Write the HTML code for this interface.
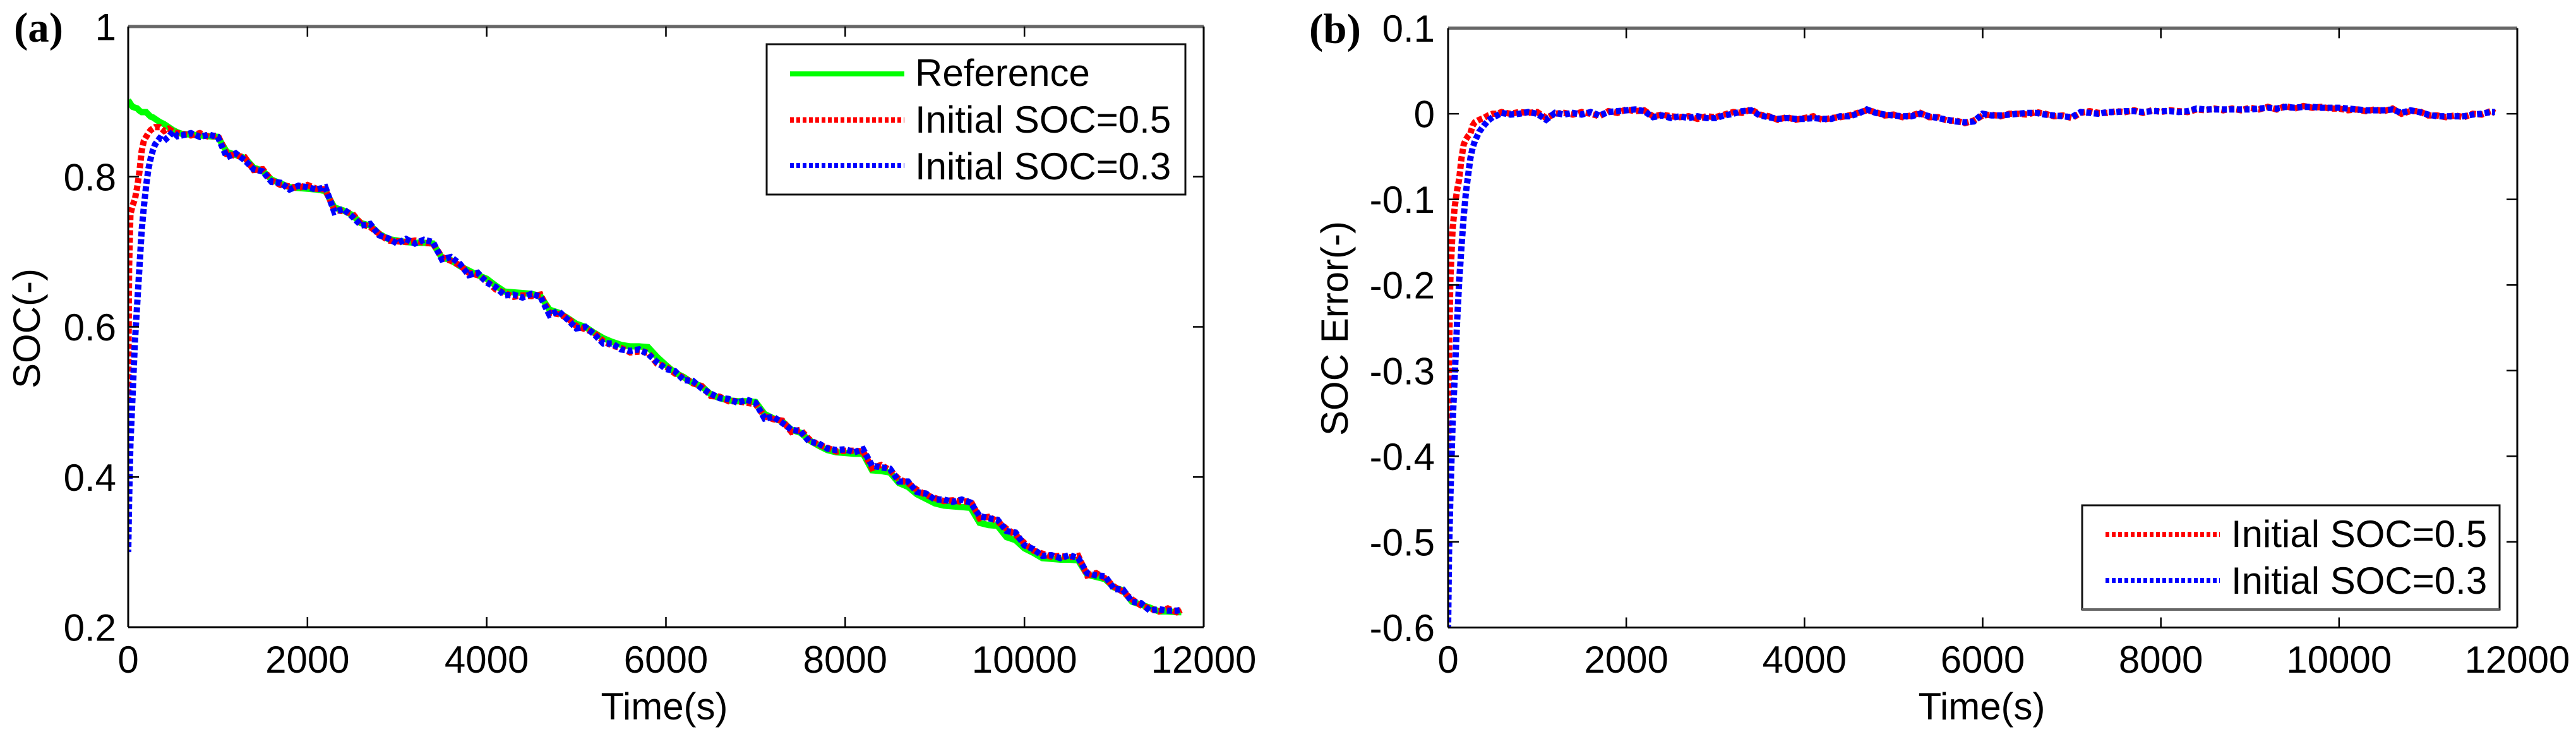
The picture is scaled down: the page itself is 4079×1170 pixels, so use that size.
<!DOCTYPE html>
<html lang="en">
<head>
<meta charset="utf-8">
<title>SOC estimation and SOC error over time</title>
<style>
html,body{margin:0;padding:0;background:#fff;width:4079px;height:1170px;overflow:hidden}
svg{display:block}
text{font-family:"Liberation Sans",sans-serif;fill:#000}
.tick{font-size:60px}
.lab{font-size:60px}
.leg{font-size:60px}
.pan{font-family:"Liberation Serif",serif;font-weight:bold;font-size:67px}
</style>
</head>
<body>
<svg id="fig" xmlns="http://www.w3.org/2000/svg" width="4079" height="1170" viewBox="0 0 4079 1170">
  <defs>
    <clipPath id="clipA"><rect x="203" y="42" width="1703" height="951"/></clipPath>
    <clipPath id="clipB"><rect x="2293" y="44" width="1693" height="950"/></clipPath>
  </defs>
  <rect x="0" y="0" width="4079" height="1170" fill="#fff"/>
  <g id="panelA">
    <text class="pan" x="22" y="66">(a)</text>
    <g id="seriesA" clip-path="url(#clipA)"></g>
    <g id="axesA"></g>
    <text class="lab" x="1052" y="1139" text-anchor="middle">Time(s)</text>
    <text class="lab" transform="translate(63,520) rotate(-90)" text-anchor="middle">SOC(-)</text>
    <g>
      <rect x="1214" y="70" width="663" height="238" fill="#fff" stroke="#111" stroke-width="3"/>
      <line x1="1251" x2="1432" y1="117" y2="117" stroke="#00ff00" stroke-width="8"/>
      <text class="leg" x="1449" y="136">Reference</text>
      <line x1="1251" x2="1432" y1="190" y2="190" stroke="#ff0000" stroke-width="9" stroke-dasharray="6 4"/>
      <text class="leg" x="1449" y="210">Initial SOC=0.5</text>
      <line x1="1251" x2="1432" y1="262" y2="262" stroke="#0000ff" stroke-width="8" stroke-dasharray="6 4"/>
      <text class="leg" x="1449" y="284">Initial SOC=0.3</text>
    </g>
  </g>
  <g id="panelB">
    <text class="pan" x="2073" y="68">(b)</text>
    <g id="seriesB" clip-path="url(#clipB)"></g>
    <g id="axesB"></g>
    <text class="lab" x="3138" y="1139" text-anchor="middle">Time(s)</text>
    <text class="lab" transform="translate(2134,520) rotate(-90)" text-anchor="middle">SOC Error(-)</text>
    <g>
      <rect x="3297" y="800" width="661" height="165" fill="#fff" stroke="#111" stroke-width="3"/>
      <line x1="3297" x2="3958" y1="965" y2="965" stroke="#666" stroke-width="4"/>
      <line x1="3334" x2="3515" y1="846" y2="846" stroke="#ff0000" stroke-width="8" stroke-dasharray="6 4"/>
      <text class="leg" x="3533" y="866">Initial SOC=0.5</text>
      <line x1="3334" x2="3515" y1="919" y2="919" stroke="#0000ff" stroke-width="8" stroke-dasharray="6 4"/>
      <text class="leg" x="3533" y="940">Initial SOC=0.3</text>
    </g>
  </g>
</svg>
<script>
var timeS = [
  0,10,25,50,75,100,125,150,175,200,225,250,275,300,350,400,450,500,550,
  600,700,800,900,1000,1100,1200,1300,1400,1500,
  1600,1700,1800,1900,2000,2100,2200,2300,2400,2500,
  2600,2700,2800,2900,3000,3100,3200,3300,3400,3500,
  3600,3700,3800,3900,4000,4100,4200,4300,4400,4500,
  4600,4700,4800,4900,5000,5100,5200,5300,5400,5500,
  5600,5700,5800,5900,6000,6100,6200,6300,6400,6500,
  6600,6700,6800,6900,7000,7100,7200,7300,7400,7500,
  7600,7700,7800,7900,8000,8100,8200,8300,8400,8500,
  8600,8700,8800,8900,9000,9100,9200,9300,9400,9500,
  9600,9700,9800,9900,10000,10100,10200,10300,10400,10500,
  10600,10700,10800,10900,11000,11100,11200,11300,11400,11500,
  11600,11700,11750
];
var socReference = [
  .901,.900,.897,.893,.892,.891,.888,.886,.886,.886,.883,.880,.879,.877,.873,.870,.866,.862,.859,
  .857,.856,.855,.854,.853,.833,.829,.825,.812,.808,
  .796,.791,.786,.785,.784,.783,.781,.759,.755,.749,
  .738,.735,.724,.717,.715,.713,.712,.712,.711,.692,
  .689,.681,.675,.669,.664,.655,.647,.646,.645,.644,
  .641,.623,.619,.612,.604,.600,.592,.585,.580,.576,
  .574,.574,.573,.560,.549,.539,.533,.525,.521,.510,
  .505,.502,.501,.501,.500,.484,.478,.474,.463,.459,
  .449,.442,.436,.433,.432,.431,.431,.409,.408,.406,
  .392,.387,.377,.371,.365,.362,.361,.360,.359,.339,
  .336,.335,.320,.316,.305,.299,.292,.291,.290,.290,
  .289,.270,.267,.264,.253,.249,.234,.230,.226,.221,
  .221,.220,.220
];
var socInitial05 = [
  .500,.680,.750,.762,.770,.786,.806,.834,.848,.853,.858,.862,.864,.866,.866,.861,.864,.860,.858,
  .857,.855,.858,.853,.855,.830,.828,.826,.809,.810,
  .795,.789,.787,.785,.789,.784,.783,.756,.754,.751,
  .737,.733,.724,.715,.714,.713,.715,.712,.711,.693,
  .688,.682,.672,.669,.661,.650,.645,.640,.642,.641,
  .643,.619,.617,.612,.601,.597,.592,.581,.575,.572,
  .566,.567,.566,.551,.547,.538,.532,.525,.521,.508,
  .507,.501,.501,.499,.497,.481,.477,.475,.460,.463,
  .450,.443,.439,.434,.435,.435,.434,.412,.416,.409,
  .397,.392,.383,.376,.372,.368,.369,.367,.368,.345,
  .347,.341,.331,.323,.312,.302,.298,.294,.295,.293,
  .295,.269,.272,.265,.254,.247,.237,.229,.225,.221,
  .225,.220,.223
];
var socInitial03 = [
  .300,.370,.445,.512,.580,.630,.678,.728,.760,.788,.810,.824,.835,.843,.851,.848,.853,.860,.854,
  .855,.858,.853,.856,.853,.826,.831,.822,.810,.807,
  .793,.792,.783,.788,.786,.783,.786,.753,.757,.747,
  .735,.737,.722,.718,.711,.717,.711,.716,.713,.690,
  .693,.684,.669,.672,.659,.653,.642,.643,.639,.644,
  .640,.616,.621,.610,.598,.600,.590,.578,.578,.570,
  .568,.570,.564,.553,.544,.541,.529,.528,.518,.511,
  .505,.504,.499,.503,.499,.478,.480,.472,.463,.461,
  .447,.445,.438,.436,.437,.433,.437,.415,.413,.411,
  .394,.394,.380,.378,.370,.370,.367,.370,.366,.348,
  .345,.343,.328,.326,.309,.304,.295,.296,.292,.296,
  .292,.272,.269,.268,.251,.250,.234,.232,.222,.224,
  .222,.222,.223
];
var errorInitial05 = [
  -.400,-.290,-.195,-.135,-.108,-.090,-.076,-.052,-.036,-.030,-.026,-.023,-.014,-.010,-.007,-.005,-.002,.000,.000,
  .002,.000,.002,.001,.002,-.005,.000,.001,-.001,.002,
  .000,-.003,.003,.001,.005,.003,.004,-.003,-.001,-.003,
  -.004,-.003,-.006,-.003,-.004,-.001,.002,.001,.005,-.001,
  -.003,-.007,-.004,-.007,-.005,-.003,-.007,-.005,-.004,-.002,
  .001,.004,.002,-.002,-.001,-.004,-.002,.001,-.004,-.004,
  -.008,-.008,-.011,-.008,-.002,-.001,-.003,.000,.000,-.001,
  .002,.000,-.003,-.002,-.005,.001,.003,.001,.001,.003,
  .002,.004,.001,.004,.002,.004,.003,.002,.005,.004,
  .006,.004,.006,.004,.007,.005,.008,.005,.009,.006,
  .009,.007,.008,.006,.006,.004,.005,.003,.005,.003,
  .006,.000,.003,.003,-.002,-.002,-.004,-.002,-.004,.000,
  -.001,.003,.001
];
var errorInitial03 = [
  -.600,-.515,-.450,-.362,-.305,-.245,-.195,-.155,-.120,-.092,-.072,-.052,-.040,-.032,-.021,-.014,-.008,-.004,-.002,
  .001,-.001,.000,.002,.000,-.007,.001,-.001,.001,-.001,
  .002,-.002,.002,.003,.004,.005,.003,-.004,-.002,-.005,
  -.003,-.005,-.003,-.005,-.005,-.002,.000,.003,.004,-.002,
  -.004,-.006,-.005,-.006,-.006,-.005,-.006,-.006,-.003,-.003,
  .000,.005,.001,-.001,-.002,-.003,-.003,.000,-.003,-.005,
  -.007,-.009,-.010,-.009,.000,-.002,-.002,-.001,.000,.001,
  .001,-.001,-.002,-.003,-.004,.002,.001,.000,.002,.002,
  .003,.003,.002,.003,.003,.003,.002,.003,.006,.005,
  .005,.005,.005,.005,.005,.006,.007,.006,.008,.007,
  .008,.008,.007,.007,.007,.006,.005,.004,.004,.004,
  .005,.001,.004,.002,-.001,-.003,-.003,-.003,-.003,-.001,
  .000,.002,.002
];
var xTickValues = [0,2000,4000,6000,8000,10000,12000];
var xTickLabels = ["0","2000","4000","6000","8000","10000","12000"];
var socTickValues = [0.2,0.4,0.6,0.8,1];
var socTickLabels = ["0.2","0.4","0.6","0.8","1"];
var errorTickValues = [-0.6,-0.5,-0.4,-0.3,-0.2,-0.1,0,0.1];
var errorTickLabels = ["-0.6","-0.5","-0.4","-0.3","-0.2","-0.1","0","0.1"];

var NS = "http://www.w3.org/2000/svg";
function xA(t){return 203 + t * (1906 - 203) / 12000;}
function yA(v){return 42 + (1 - v) * (993 - 42) / 0.8;}
function xB(t){return 2293 + t * (3986 - 2293) / 12000;}
function yB(e){return 44.5 + (0.1 - e) * (993.5 - 44.5) / 0.7;}

function make(tag, attrs, parent){
  var el = document.createElementNS(NS, tag);
  for (var k in attrs) el.setAttribute(k, attrs[k]);
  parent.appendChild(el);
  return el;
}
function drawSeries(parent, xs, ys, fx, fy, color, dash, offset, width, name){
  var pts = [];
  for (var i = 0; i < xs.length; i++) pts.push(fx(xs[i]).toFixed(1) + "," + fy(ys[i]).toFixed(1));
  var el = make("polyline", {points: pts.join(" "), fill: "none", stroke: color, "stroke-width": width,
    "stroke-dasharray": dash, "stroke-dashoffset": offset, "stroke-linejoin": "miter"}, parent);
  
  
}
function drawAxes(parent, fx, fy, x0, x1, y0, y1, yVals, yLabs, labelRight, prefix){
  var parts = [
    [x0, y0, x1, y0, "#666", 5, "top-spine"],
    [x0, y1, x1, y1, "#000", 3, "bottom-spine"],
    [x0, y0, x0, y1, "#000", 3, "left-spine"],
    [x1, y0, x1, y1, "#000", 3, "right-spine"]
  ];
  parts.forEach(function(p){
    var el = make("line", {x1: p[0], y1: p[1], x2: p[2], y2: p[3], stroke: p[4], "stroke-width": p[5]}, parent);
    
    
  });
  xTickValues.forEach(function(t, i){
    var x = fx(t);
    if (i > 0 && i < xTickValues.length - 1) {
      var a = make("line", {x1: x, y1: y0, x2: x, y2: y0 + 16, stroke: "#000", "stroke-width": 2.5}, parent);
      
      
      var b = make("line", {x1: x, y1: y1, x2: x, y2: y1 - 16, stroke: "#000", "stroke-width": 2.5}, parent);
      
      
    }
    var l = make("text", {x: x, y: 1065, "text-anchor": "middle", "class": "tick"}, parent);
    l.textContent = xTickLabels[i];
    
    
  });
  yVals.forEach(function(v, i){
    var y = fy(v);
    if (i > 0 && i < yVals.length - 1) {
      var a = make("line", {x1: x0, y1: y, x2: x0 + 17, y2: y, stroke: "#000", "stroke-width": 2.5}, parent);
      
      
      var b = make("line", {x1: x1, y1: y, x2: x1 - 17, y2: y, stroke: "#000", "stroke-width": 2.5}, parent);
      
      
    }
    var l = make("text", {x: labelRight, y: y + 21.5, "text-anchor": "end", "class": "tick"}, parent);
    l.textContent = yLabs[i];
    
    
  });
}

var sA = document.getElementById("seriesA");
var sB = document.getElementById("seriesB");
drawSeries(sA, timeS, socReference, xA, yA, "#00ff00", "none", 0, 10, "line-reference");
drawSeries(sA, timeS, socInitial05, xA, yA, "#ff0000", "8 4", 0, 10, "line-initial-soc-05");
drawSeries(sA, timeS, socInitial03, xA, yA, "#0000ff", "8 4", 4, 10, "line-initial-soc-03");
drawSeries(sB, timeS, errorInitial05, xB, yB, "#ff0000", "8 4", 0, 10, "error-line-initial-soc-05");
drawSeries(sB, timeS, errorInitial03, xB, yB, "#0000ff", "8 4", 4, 10, "error-line-initial-soc-03");
drawAxes(document.getElementById("axesA"), xA, yA, 203, 1906, 42, 993, socTickValues, socTickLabels, 184, "panel-a");
drawAxes(document.getElementById("axesB"), xB, yB, 2293, 3986, 44.5, 993.5, errorTickValues, errorTickLabels, 2272, "panel-b");
</script>
</body>
</html>
